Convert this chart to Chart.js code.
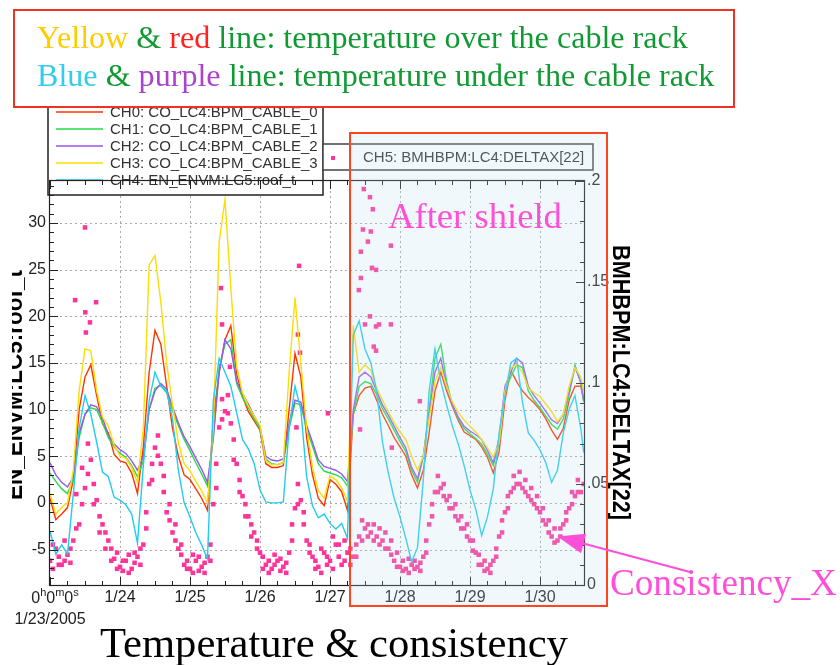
<!DOCTYPE html>
<html>
<head>
<meta charset="utf-8">
<script src="https://cdn.jsdelivr.net/npm/chart.js@4.4.1/dist/chart.umd.min.js"></script>
<style>
  body { margin: 0; background: #fff; }
  #wrap { width: 840px; height: 665px; }
</style>
</head>
<body>
<div id="wrap"><canvas id="sensorChart" width="840" height="665"></canvas></div>
<script>
// hours since 1/23/2005 00:00
const hours = [
  0, 2, 4, 6, 8, 10, 12, 14, 16, 18, 20, 22,
  24, 26, 28, 30, 32, 34, 36, 38, 40, 42, 44, 46,
  48, 50, 52, 54, 56, 58, 60, 62, 64, 66, 68, 70,
  72, 74, 76, 78, 80, 82, 84, 86, 88, 90, 92, 94,
  96, 98, 100, 102, 104, 106, 108, 110, 112, 114, 116, 118,
  120, 122, 124, 126, 128, 130, 132, 134, 136, 138, 140, 142,
  144, 146, 148, 150, 152, 154, 156, 158, 160, 162, 164, 166,
  168, 170, 172, 174, 176, 178, 180, 182, 183
];
const oddHours = [
  1, 3, 5, 7, 9, 11, 13, 15, 17, 19, 21, 23,
  25, 27, 29, 31, 33, 35, 37, 39, 41, 43, 45, 47,
  49, 51, 53, 55, 57, 59, 61, 63, 65, 67, 69, 71,
  73, 75, 77, 79, 81, 83, 85, 87, 89, 91, 93, 95,
  97, 99, 101, 103, 105, 107, 109, 111, 113, 115, 117, 119,
  121, 123, 125, 127, 129, 131, 133, 135, 137, 139, 141, 143,
  145, 147, 149, 151, 153, 155, 157, 159, 161, 163, 165, 167,
  169, 171, 173, 175, 177, 179, 181
];

const seriesNames = [
  'CH0: CO_LC4:BPM_CABLE_0',
  'CH1: CO_LC4:BPM_CABLE_1',
  'CH2: CO_LC4:BPM_CABLE_2',
  'CH3: CO_LC4:BPM_CABLE_3',
  'CH4: EN_ENVM:LC5:roof_t',
  'CH5: BMHBPM:LC4:DELTAX[22]'
];

// temperatures (left axis)
const ch0 = [
  0.5, -1.8, -1.2, -0.5, 2.5, 10, 13.5, 14.8, 11.5, 8.5, 7.5, 5.2,
  4.5, 4.3, 3.2, 1.0, 6, 14, 18.5, 17, 12.5, 8, 5, 3,
  2.5, 1.5, 0.5, -0.8, 9, 14, 17.5, 19, 13.8, 11.4, 9.8, 8.8,
  7.8, 4.2, 3.8, 3.8, 4.0, 10, 16, 13.5, 7, 3, 0.5, -0.3,
  2.5, 2, 1.2, -0.8, 9.5, 11.5, 12.3, 12.5, 11, 9.5, 8.3, 7.0,
  6.0, 5.0, 3.0, 1.6, 3.5, 7.5, 12, 14, 12, 10.3, 8.8, 7.6,
  7.2, 6.8, 6.0, 4.9, 3.2, 5.5, 11, 14.2, 13, 12, 11.3, 10.7,
  10, 9, 7.8, 6.8, 8, 11, 12.5, 12.5, 11
];
const ch1 = [
  3.2, 2.3, 1.5, 1.0, 2.5, 7, 9.5, 10.2, 10, 8.6, 7.0, 6.0,
  5.3, 4.9, 4.0, 2.8, 4.5, 10, 12.3, 12.6, 11.8, 9.9, 8.3, 6.8,
  5.6, 4.3, 3.1, 1.8, 7, 14.5, 17, 17.5, 12.8, 11.3, 10.2, 9,
  7.9, 4.7, 4.2, 4.1, 4.3, 8, 10.7, 10.5, 7.9, 6.1, 4.2, 3.4,
  3.2, 3.0, 2.7, 1.8, 9.5, 12.5, 13, 12.8, 11.6, 10.1, 9.0, 7.8,
  6.6, 5.5, 3.5, 2.2, 5, 10, 15.5, 17, 13, 10.5, 9, 8,
  7.4, 6.9, 6.3, 5.2, 4.0, 6.5, 12, 13.5, 14.8, 14.5, 12, 11,
  10.2, 9.3, 8.4, 7.9, 9, 11.5, 14.8, 12.8, 10.8
];
const ch2 = [
  4.3, 3.0, 2.2, 1.7, 2.8, 7.5, 9.5, 10.5, 10.3, 9.1, 7.3, 6.3,
  5.7, 5.3, 4.5, 3.5, 5, 10, 12, 12.8, 12.2, 10.3, 8.6, 7.1,
  6.0, 4.8, 3.6, 2.2, 7, 14, 17.5, 16.5, 13, 11.7, 10.6, 9.3,
  8.2, 5, 4.6, 4.5, 4.7, 8.5, 11, 10.8, 8.3, 6.5, 4.6, 3.9,
  3.7, 3.5, 3.1, 2.3, 10, 13.5, 14, 13.5, 12, 10.5, 9.4, 8.2,
  7, 5.9, 3.8, 2.6, 5, 9.5, 14, 15.5, 12.5, 10.5, 9.2, 8.2,
  7.7, 7.3, 6.8, 5.6, 4.3, 7, 12.5, 14, 15.5, 15, 12.5, 11.5,
  10.7, 9.8, 8.9, 8.5, 9.5, 12, 14.5, 13, 11
];
const ch3 = [
  1.0, -1.2, -0.5, 0, 3.5, 12, 16.5, 16.3, 12, 9.2, 8.2, 6.2,
  5.0, 4.8, 3.8, 2.2, 8, 25.5, 26.5, 21.5, 15, 10.5, 6.5, 4.2,
  3.4, 2.3, 1.3, 0, 8, 28, 32.5, 23, 14.6, 11.8, 10.4, 9.3,
  8.3, 4.5, 4.1, 4.1, 4.3, 14, 22, 15, 8, 3.8, 1.3, 0.5,
  2.9, 2.5, 1.6, 0.2, 19, 14, 14.8, 14.2, 12.3, 11, 9.8, 8.6,
  7.6, 6.8, 5.0, 3.5, 5, 9, 13, 14.5, 12.5, 10.8, 9.7, 8.9,
  8.2, 7.6, 6.8, 5.9, 4.9, 6.5, 12, 14.5, 14.8, 14, 12.3, 11.8,
  11.4, 10.6, 9.8, 8.7, 9.5, 12.5, 14.5, 13.5, 12
];
const ch4 = [
  -3, -5.5, -4.5, -5.5, 1, 8, 11.5, 9.5, 6.5, 3.3, 2.8, 0.6,
  0.3, -0.2, -1.2, -4.3, 4, 11, 14, 12.5, 12, 9, 3.5, 0,
  -1.5, -3.2, -4.5, -6, 11, 15.5, 14, 12.5, 9.7, 6.8, 5.8, 4.2,
  1.4, 0.1, 0, 0, 0.1, 8, 12.5, 10, 2.8, -0.3, -1.6, -1.2,
  -2.2, -2.8, -2.2, -3.8, 18, 19.5, 16.5, 15, 12, 6.5, 3.2, 0.5,
  -1.5, -3.8, -6.3, -4.8, 2.5, 12, 16.5, 13, 10.5, 8.2, 6.3, 4,
  1.4, -0.7, -3.5, -1.5, 1.5, 7.5, 11.5, 15, 15.5, 10.8, 7.5, 6.7,
  5.7, 4.3, 2.2, 3.5, 7.5, 10, 11.5, 8, 5.4
];

// CH5 deltax (right axis): one reading at even hours, two (upper, lower) at odd hours
const ch5a = [
  0.012, 0.018, 0.010, 0.015, 0.022, 0.030, 0.048, 0.062, 0.042, 0.030, 0.022, 0.013,
  0.009, 0.012, 0.008, 0.014, 0.020, 0.050, 0.068, 0.060, 0.036, 0.026, 0.018, 0.010,
  0.008, 0.012, 0.009, 0.014, 0.040, 0.078, 0.086, 0.080, 0.060, 0.044, 0.034, 0.026,
  0.016, 0.010, 0.008, 0.012, 0.009, 0.016, 0.038, 0.042, 0.022, 0.014, 0.009, 0.016,
  0.012, 0.020, 0.010, 0.016, 0.014, 0.024, 0.028, 0.026, 0.024, 0.022, 0.018, 0.012,
  0.009, 0.008, 0.010, 0.009, 0.014, 0.030, 0.046, 0.048, 0.042, 0.038, 0.032, 0.028,
  0.022, 0.016, 0.010, 0.008, 0.012, 0.024, 0.036, 0.046, 0.050, 0.048, 0.044, 0.040,
  0.036, 0.030, 0.024, 0.022, 0.030, 0.038, 0.044, 0.046, 0.050
];
const ch5b = [
  0.020, 0.014, 0.022, 0.011, 0.045, 0.058, 0.070, 0.050, 0.034, 0.026, 0.018, 0.016,
  0.007, 0.015, 0.011, 0.018, 0.036, 0.060, 0.074, 0.046, 0.032, 0.022, 0.015, 0.012,
  0.015, 0.007, 0.011, 0.020, 0.060, 0.092, 0.094, 0.072, 0.052, 0.040, 0.030, 0.022,
  0.014, 0.012, 0.015, 0.007, 0.011, 0.030, 0.050, 0.030, 0.020, 0.012, 0.018, 0.010,
  0.024, 0.014, 0.022, 0.018, 0.020, 0.032, 0.030, 0.030, 0.028, 0.026, 0.022, 0.016,
  0.012, 0.013, 0.012, 0.011, 0.022, 0.040, 0.054, 0.050, 0.044, 0.040, 0.034, 0.030,
  0.022, 0.015, 0.012, 0.010, 0.018, 0.032, 0.044, 0.054, 0.056, 0.052, 0.048, 0.044,
  0.038, 0.032, 0.028, 0.028, 0.036, 0.046, 0.052
];
const ch5c = [
  0.008, 0.010, 0.012, 0.018, 0.028, 0.040, 0.055, 0.040, 0.026, 0.018, 0.012, 0.008,
  0.012, 0.006, 0.016, 0.010, 0.028, 0.052, 0.064, 0.054, 0.040, 0.030, 0.020, 0.008,
  0.006, 0.014, 0.006, 0.012, 0.048, 0.082, 0.085, 0.062, 0.046, 0.034, 0.024, 0.018,
  0.008, 0.006, 0.010, 0.013, 0.006, 0.022, 0.040, 0.036, 0.016, 0.008, 0.006, 0.014,
  0.008, 0.020, 0.012, 0.010, 0.014, 0.022, 0.024, 0.022, 0.020, 0.018, 0.015, 0.009,
  0.007, 0.006, 0.008, 0.007, 0.016, 0.034, 0.046, 0.044, 0.038, 0.034, 0.028, 0.024,
  0.017, 0.010, 0.007, 0.006, 0.014, 0.026, 0.038, 0.048, 0.050, 0.046, 0.042, 0.038,
  0.032, 0.026, 0.021, 0.024, 0.032, 0.040, 0.046
];
const outlierHours = [
  8.6, 12, 12.1, 12.3, 13.7, 15.8, 58.6, 59, 61.7, 84.5, 85, 85.4, 85.7, 95.3,
  105.9, 106.3, 106.6, 106.6, 107.3, 107.6, 108, 109, 109.7, 109.7, 110, 110.4,
  110.7, 111, 111.8, 111.8, 111.8, 112.8, 116.9, 116.9, 117.2, 126.8
];
const outlierValues = [
  0.141, 0.177, 0.135, 0.125, 0.130, 0.140, 0.147, 0.129, 0.108, 0.078, 0.124, 0.158, 0.115, 0.085,
  0.146, 0.077, 0.152, 0.165, 0.176, 0.196, 0.129, 0.170, 0.133, 0.192, 0.175, 0.157,
  0.186, 0.118, 0.156, 0.128, 0.116, 0.129, 0.168, 0.129, 0.068, 0.091
];

// axes
const dayTicks = [24, 48, 72, 96, 120, 144, 168];
const dayLabels = ['1/24', '1/25', '1/26', '1/27', '1/28', '1/29', '1/30'];
const leftTicks = [-5, 0, 5, 10, 15, 20, 25, 30];
const rightTicks = [0, 0.05, 0.1, 0.15, 0.2];
const rightLabels = ['0', '.05', '.1', '.15', '.2'];

const lineColors = ['#ff3300', '#22dd44', '#9955ee', '#ffdd00', '#22ccee'];
const pinkColor = '#ff3399';
const magenta = '#ff4fd8';
const sans = '"Liberation Sans", Arial, sans-serif';
const serif = '"Liberation Serif", "Times New Roman", serif';

const pts = (xs, ys) => xs.map((x, i) => ({ x: x, y: ys[i] }));

function fitFont(ctx, text, width, family, weight) {
  ctx.font = weight + ' 40px ' + family;
  return 40 * width / ctx.measureText(text).width;
}

function drawParts(ctx, parts, x, y) {
  for (const [t, c] of parts) {
    ctx.fillStyle = c;
    ctx.fillText(t, x, y);
    x += ctx.measureText(t).width;
  }
}

const decor = {
  id: 'decor',
  beforeDraw(chart) {
    const ctx = chart.ctx;
    ctx.save();
    ctx.fillStyle = '#fff';
    ctx.fillRect(0, 0, chart.width, chart.height);
    ctx.restore();
  },
  beforeDatasetsDraw(chart) {
    const ctx = chart.ctx;
    const { left, right, top, bottom } = chart.chartArea;
    const xs = chart.scales.x, ys = chart.scales.y;
    ctx.save();
    ctx.strokeStyle = '#aaa';
    ctx.lineWidth = 1;
    ctx.setLineDash([2, 3]);
    ctx.beginPath();
    dayTicks.forEach(h => {
      const px = Math.round(xs.getPixelForValue(h)) + 0.5;
      ctx.moveTo(px, top); ctx.lineTo(px, bottom);
    });
    leftTicks.forEach(v => {
      const py = Math.round(ys.getPixelForValue(v)) + 0.5;
      ctx.moveTo(left, py); ctx.lineTo(right, py);
    });
    ctx.stroke();
    ctx.restore();
  },
  afterDatasetsDraw(chart) {
    const ctx = chart.ctx;
    const { left, right, top, bottom } = chart.chartArea;
    const xs = chart.scales.x, ys = chart.scales.y, ys2 = chart.scales.y2;
    ctx.save();

    // legend of CH0..CH4
    ctx.fillStyle = '#fff';
    ctx.fillRect(48, 98, 275, 97);
    ctx.strokeStyle = '#222';
    ctx.lineWidth = 1.5;
    ctx.strokeRect(48, 98, 275, 97);
    ctx.font = '15px ' + sans;
    ctx.textAlign = 'left';
    ctx.textBaseline = 'middle';
    for (let i = 0; i < 5; i++) {
      const ly = 112 + i * 17;
      ctx.strokeStyle = lineColors[i];
      ctx.lineWidth = 1.3;
      ctx.beginPath(); ctx.moveTo(56, ly); ctx.lineTo(103, ly); ctx.stroke();
      ctx.fillStyle = '#333';
      ctx.fillText(seriesNames[i], 110, ly + 1);
    }

    // legend of CH5
    ctx.fillStyle = '#fff';
    ctx.fillRect(323, 144, 270, 26);
    ctx.strokeStyle = '#444';
    ctx.lineWidth = 1.5;
    ctx.strokeRect(323, 144, 270, 26);
    ctx.fillStyle = pinkColor;
    ctx.fillRect(331, 156, 4, 4);
    ctx.fillStyle = '#333';
    ctx.fillText(seriesNames[5], 363, 158);

    // frame and ticks
    ctx.strokeStyle = '#222';
    ctx.lineWidth = 1.2;
    ctx.strokeRect(left - 0.5, top - 0.5, right - left + 1, bottom - top + 1);
    ctx.lineWidth = 1;
    ctx.beginPath();
    for (let h = 0; h <= 183; h += 6) {
      const px = Math.round(xs.getPixelForValue(h)) + 0.5;
      const len = h % 24 === 0 ? 8 : 4;
      ctx.moveTo(px, bottom); ctx.lineTo(px, bottom - len);
      ctx.moveTo(px, top); ctx.lineTo(px, top + len);
    }
    for (let v = -8; v <= 34; v++) {
      const py = Math.round(ys.getPixelForValue(v)) + 0.5;
      const len = v % 5 === 0 ? 8 : 4;
      ctx.moveTo(left, py); ctx.lineTo(left + len, py);
    }
    for (let i = 0; i <= 20; i++) {
      const py = Math.round(ys2.getPixelForValue(i / 100)) + 0.5;
      const len = i % 5 === 0 ? 8 : 4;
      ctx.moveTo(right, py); ctx.lineTo(right - len, py);
    }
    ctx.stroke();

    // tick labels
    ctx.font = '16px ' + sans;
    ctx.fillStyle = '#222';
    ctx.textAlign = 'right';
    ctx.textBaseline = 'middle';
    leftTicks.forEach(v => ctx.fillText(String(v), left - 4, ys.getPixelForValue(v)));
    ctx.textAlign = 'left';
    rightTicks.forEach((v, i) => ctx.fillText(rightLabels[i], right + 3, ys2.getPixelForValue(v)));
    ctx.textAlign = 'center';
    dayTicks.forEach((h, i) => ctx.fillText(dayLabels[i], xs.getPixelForValue(h), bottom + 13));
    ctx.fillText('1/23/2005', xs.getPixelForValue(0), bottom + 35);
    // 0h0m0s with superscript units
    const parts = [['0', 16, 0], ['h', 11, -6], ['0', 16, 0], ['m', 11, -6], ['0', 16, 0], ['s', 11, -6]];
    let w = 0;
    parts.forEach(p => { ctx.font = p[1] + 'px ' + sans; w += ctx.measureText(p[0]).width; });
    let cx = xs.getPixelForValue(0) + 5 - w / 2;
    ctx.textAlign = 'left';
    parts.forEach(p => {
      ctx.font = p[1] + 'px ' + sans;
      ctx.fillText(p[0], cx, bottom + 14 + p[2]);
      cx += ctx.measureText(p[0]).width;
    });

    // note box at the top
    ctx.fillStyle = '#fff';
    ctx.fillRect(14, 10, 720, 97);
    ctx.strokeStyle = '#ee3322';
    ctx.lineWidth = 2;
    ctx.strokeRect(14, 10, 720, 97);
    const green = '#119933';
    const line1 = [['Yellow', '#ffcc00'], [' & ', green], ['red', '#ff2222'], [' line: temperature over the cable rack', green]];
    const line2 = [['Blue', '#33ccee'], [' & ', green], ['purple', '#aa44cc'], [' line: temperature under the cable rack', green]];
    const noteSize = fitFont(ctx, line1.map(p => p[0]).join(''), 651, serif, '');
    ctx.font = noteSize + 'px ' + serif;
    ctx.textBaseline = 'alphabetic';
    drawParts(ctx, line1, 37, 48);
    drawParts(ctx, line2, 37, 86);

    // after shield region
    ctx.fillStyle = 'rgba(185, 222, 235, 0.22)';
    ctx.fillRect(350, 133, 257, 473);
    ctx.strokeStyle = '#ff4422';
    ctx.lineWidth = 2;
    ctx.strokeRect(350, 133, 257, 473);
    ctx.fillStyle = magenta;
    ctx.font = fitFont(ctx, 'After shield', 174, serif, '') + 'px ' + serif;
    ctx.fillText('After shield', 388, 228);
    ctx.font = fitFont(ctx, 'Consistency_X', 227, serif, '') + 'px ' + serif;
    ctx.fillText('Consistency_X', 610, 595);

    // arrow to the CH5 band
    const tipX = xs.getPixelForValue(174), tipY = ys2.getPixelForValue(0.024);
    const tailX = 690, tailY = 572;
    const dx = tailX - tipX, dy = tailY - tipY, dl = Math.hypot(dx, dy);
    const ux = dx / dl, uy = dy / dl;
    ctx.strokeStyle = magenta;
    ctx.lineWidth = 2;
    ctx.beginPath();
    ctx.moveTo(tipX + ux * 20, tipY + uy * 20);
    ctx.lineTo(tailX, tailY);
    ctx.stroke();
    ctx.beginPath();
    ctx.moveTo(tipX, tipY);
    ctx.lineTo(tipX + ux * 27 - uy * 10, tipY + uy * 27 + ux * 10);
    ctx.lineTo(tipX + ux * 27 + uy * 10, tipY + uy * 27 - ux * 10);
    ctx.closePath();
    ctx.fill();

    // axis titles
    ctx.fillStyle = '#000';
    ctx.save();
    ctx.beginPath();
    ctx.rect(12, 195, 40, 330);
    ctx.clip();
    ctx.font = 'bold 24px ' + sans;
    let k = 230 / ctx.measureText(seriesNames[4].slice(5)).width;
    ctx.translate(22, 500);
    ctx.rotate(-Math.PI / 2);
    ctx.scale(k, 1);
    ctx.fillText(seriesNames[4].slice(5), 0, 0);
    ctx.restore();

    ctx.save();
    ctx.font = 'bold 24px ' + sans;
    k = 275 / ctx.measureText(seriesNames[5].slice(5)).width;
    ctx.translate(613, 245);
    ctx.rotate(Math.PI / 2);
    ctx.scale(k, 1);
    ctx.fillText(seriesNames[5].slice(5), 0, 0);
    ctx.restore();

    // chart title
    ctx.fillStyle = '#000';
    ctx.font = fitFont(ctx, 'Temperature & consistency', 468, serif, '') + 'px ' + serif;
    ctx.fillText('Temperature & consistency', 100, 657);

    ctx.restore();
  }
};

const ctx = document.getElementById('sensorChart').getContext('2d');

const datasets = [ch0, ch1, ch2, ch3, ch4].map((values, i) => ({
  label: seriesNames[i],
  data: pts(hours, values),
  borderColor: lineColors[i],
  borderWidth: 1.4,
  pointRadius: 0,
  tension: 0,
  yAxisID: 'y',
  order: 5 - i
}));
datasets.push({
  label: seriesNames[5],
  data: pts(hours, ch5a).concat(pts(oddHours, ch5b), pts(oddHours, ch5c), pts(outlierHours, outlierValues)),
  showLine: false,
  pointStyle: 'rect',
  pointRadius: 3.2,
  pointBackgroundColor: pinkColor,
  pointBorderWidth: 0,
  yAxisID: 'y2',
  order: 10
});

const chart = new Chart(ctx, {
  type: 'line',
  data: { datasets: datasets },
  options: {
    responsive: false,
    devicePixelRatio: 1,
    animation: false,
    events: [],
    layout: { padding: { left: 50, right: 256, top: 181, bottom: 80 } },
    plugins: {
      legend: { display: false },
      tooltip: { enabled: false },
      title: { display: false }
    },
    scales: {
      x: { type: 'linear', min: 0, max: 183.1, display: false },
      y: { type: 'linear', min: -8.8, max: 34.5, display: false },
      y2: { type: 'linear', position: 'right', min: 0, max: 0.2, display: false }
    }
  },
  plugins: [decor]
});
</script>
</body>
</html>
